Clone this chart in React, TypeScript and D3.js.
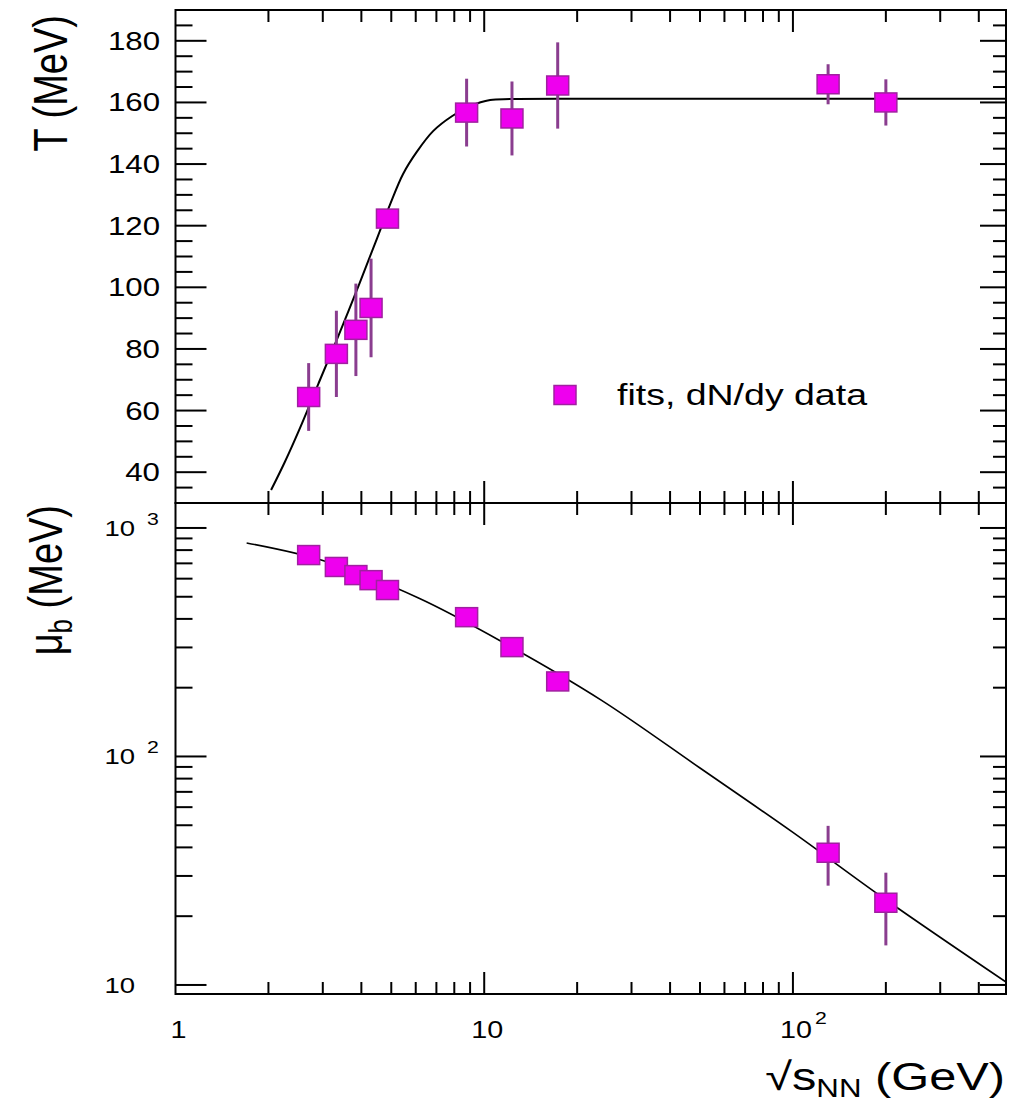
import React from "react";
import * as d3 from "d3";

// ---- data ----
const energies = [2.7, 3.32, 3.84, 4.3, 4.86, 8.77, 12.3, 17.3, 130, 200];
const tempValues = [64.4, 78.4, 86.2, 93.3, 122.3, 156.7, 154.8, 165.5, 165.9, 160.0];
const tempErrors = [11, 14, 15, 16, 2, 11, 12, 14, 6.5, 7.5];
const muValues = [761, 675, 622, 591, 535, 407, 301, 213, 37.9, 22.9];
const muLow = [725, 645, 595, 565, 512, 390, 285, 202, 27.2, 14.9];
const muHigh = [800, 705, 650, 618, 560, 425, 318, 225, 49.7, 31.0];

const tempFitX = [2.04, 2.26, 2.53, 2.9, 3.36, 3.96, 4.5, 4.96, 5.46, 6.07, 6.83, 7.88, 9.01, 10.45, 12.14, 20, 50, 120, 250, 490];
const tempFitY = [34.2, 43.3, 54.3, 68.6, 83.9, 101.7, 116.0, 127.0, 136.8, 144.2, 150.7, 155.6, 158.8, 160.8, 161.1, 161.2, 161.2, 161.2, 161.2, 161.2];
const muFitX = [1.7, 3, 6.1, 12, 24, 50, 100, 200, 490];
const muFitY = [860, 720, 495, 306, 176, 89, 46.5, 23.6, 10.3];

const tempTicksMajor = [40, 60, 80, 100, 120, 140, 160, 180];
const legendLabel = "fits, dN/dy data";

// ---- layout ----
const L = 175.5, R = 1006, TOP = 10, MID = 503, BOT = 994;
const FONT = "'Liberation Sans', Arial, Helvetica, sans-serif";
const SX = 1.25;

const x = d3.scaleLog().domain([1, 490]).range([L, R]);
const yT = d3.scaleLinear().domain([30, 190]).range([MID, TOP]);
const yM = d3.scaleLog().domain([9.13, 1286]).range([BOT, MID]);

const xMajor = [1, 10, 100];
const xMinor: number[] = [];
[1, 10, 100].forEach((dec) => {
  for (let k = 2; k <= 9; k++) {
    const v = dec * k;
    if (v <= 490) xMinor.push(v);
  }
});
const tMinor = d3.range(30, 191, 5).filter((v) => v % 20 !== 0);
const muMajor = [10, 100, 1000];
const muMinor: number[] = [];
[10, 100].forEach((dec) => {
  for (let k = 2; k <= 9; k++) muMinor.push(dec * k);
});

const BAR_COLOR = "#8a3d8f";
const FILL = "#ee00ee";
const EDGE = "#a020a0";

function T({ x: tx, y: ty, anchor = "start", size = 24, children, rotate = false }: any) {
  const tr = rotate
    ? `translate(${tx},${ty}) scale(${SX},1) rotate(-90)`
    : `translate(${tx},${ty}) scale(${SX},1)`;
  return (
    <text transform={tr} textAnchor={anchor} fontSize={size} fontFamily={FONT} fill="#000">
      {children}
    </text>
  );
}

function Marker({ cx, cy }: { cx: number; cy: number }) {
  return <rect x={cx - 11} y={cy - 9.5} width={22} height={19} fill={FILL} stroke={EDGE} strokeWidth={1.5} />;
}

export default function App() {
  const tLine = d3
    .line<number>()
    .x((_, i) => x(tempFitX[i]))
    .y((d) => yT(d))
    .curve(d3.curveCatmullRom.alpha(0.5))(tempFitY);
  const mLine = d3
    .line<number>()
    .x((_, i) => x(muFitX[i]))
    .y((d) => yM(d))
    .curve(d3.curveCatmullRom.alpha(0.5))(muFitY);

  const tick = (key: string, x1: number, y1: number, x2: number, y2: number) => (
    <line key={key} x1={x1} y1={y1} x2={x2} y2={y2} stroke="#000" strokeWidth={2} />
  );

  const ticks: any[] = [];
  const hAxes = [
    { y: TOP, dir: 1 },
    { y: MID, dir: -1 },
    { y: MID, dir: 1 },
    { y: BOT, dir: -1 },
  ];
  hAxes.forEach((a, ai) => {
    xMajor.forEach((v) => {
      if (v > 1) ticks.push(tick(`xM${ai}-${v}`, x(v), a.y, x(v), a.y + a.dir * 22));
    });
    xMinor.forEach((v) => ticks.push(tick(`xm${ai}-${v}`, x(v), a.y, x(v), a.y + a.dir * 12)));
  });
  tempTicksMajor.forEach((v) => {
    ticks.push(tick(`tL${v}`, L, yT(v), L + 31, yT(v)));
    ticks.push(tick(`tR${v}`, R, yT(v), R - 26, yT(v)));
  });
  tMinor.forEach((v) => {
    ticks.push(tick(`tl${v}`, L, yT(v), L + 17, yT(v)));
    ticks.push(tick(`tr${v}`, R, yT(v), R - 13, yT(v)));
  });
  muMajor.forEach((v) => {
    ticks.push(tick(`mL${v}`, L, yM(v), L + 31, yM(v)));
    ticks.push(tick(`mR${v}`, R, yM(v), R - 26, yM(v)));
  });
  muMinor.forEach((v) => {
    ticks.push(tick(`ml${v}`, L, yM(v), L + 17, yM(v)));
    ticks.push(tick(`mr${v}`, R, yM(v), R - 13, yM(v)));
  });

  return (
    <svg
      width={1020}
      height={1104}
      style={{ position: "absolute", left: 0, top: 0, background: "#fff" }}
    >
      <rect x={0} y={0} width={1020} height={1104} fill="#fff" />

      <defs>
        <clipPath id="clipT">
          <rect x={L} y={TOP} width={R - L} height={MID - TOP} />
        </clipPath>
        <clipPath id="clipM">
          <rect x={L} y={MID} width={R - L} height={BOT - MID} />
        </clipPath>
      </defs>

      {/* fit curves */}
      <path d={tLine || ""} fill="none" stroke="#000" strokeWidth={2} clipPath="url(#clipT)" />
      <path d={mLine || ""} fill="none" stroke="#000" strokeWidth={1.6} clipPath="url(#clipM)" />

      {/* error bars */}
      {energies.map((e, i) => (
        <line
          key={`te${i}`}
          x1={x(e)}
          x2={x(e)}
          y1={yT(tempValues[i] + tempErrors[i])}
          y2={yT(tempValues[i] - tempErrors[i])}
          stroke={BAR_COLOR}
          strokeWidth={3}
        />
      ))}
      {energies.map((e, i) => (
        <line
          key={`me${i}`}
          x1={x(e)}
          x2={x(e)}
          y1={yM(muHigh[i])}
          y2={yM(muLow[i])}
          stroke={BAR_COLOR}
          strokeWidth={3}
        />
      ))}
      {energies.map((e, i) => (
        <Marker key={`tm${i}`} cx={x(e)} cy={yT(tempValues[i])} />
      ))}
      {energies.map((e, i) => (
        <Marker key={`mm${i}`} cx={x(e)} cy={yM(muValues[i])} />
      ))}

      {/* frames */}
      <rect x={L} y={TOP} width={R - L} height={MID - TOP} fill="none" stroke="#000" strokeWidth={2} />
      <rect x={L} y={MID} width={R - L} height={BOT - MID} fill="none" stroke="#000" strokeWidth={2} />
      {ticks}

      {/* T tick labels */}
      {tempTicksMajor.map((v) => (
        <T key={`tl${v}`} x={160} y={yT(v) + 9} anchor="end" size={25}>
          {v}
        </T>
      ))}
      {/* mu tick labels */}
      {muMajor.map((v) => {
        const p = Math.round(Math.log10(v));
        return (
          <g key={`ml${v}`}>
            <T x={135} y={yM(v) + 8} anchor="end" size={22}>
              10
            </T>
            {p > 1 && (
              <T x={147} y={yM(v) - 3} anchor="start" size={17}>
                {p}
              </T>
            )}
          </g>
        );
      })}
      {/* x tick labels */}
      {xMajor.map((v) => {
        const p = Math.round(Math.log10(v));
        return (
          <g key={`xl${v}`}>
            <T x={x(v) + 3} y={1038} anchor="middle" size={23}>
              {p === 0 ? "1" : "10"}
            </T>
            {p > 1 && (
              <T x={x(v) + 22} y={1024} anchor="start" size={17}>
                {p}
              </T>
            )}
          </g>
        );
      })}

      {/* axis titles */}
      <T x={1005} y={1090} anchor="end" size={39}>
        <tspan>√s</tspan>
        <tspan fontSize={25} dy={7}>
          NN
        </tspan>
        <tspan dy={-7}> (GeV)</tspan>
      </T>
      <T x={67} y={15} anchor="end" size={38} rotate>
        T (MeV)
      </T>
      <T x={62} y={505} anchor="end" size={38} rotate>
        <tspan>μ</tspan>
        <tspan fontSize={26} dy={8}>
          b
        </tspan>
        <tspan dy={-8}> (MeV)</tspan>
      </T>

      {/* legend */}
      <Marker cx={565} cy={395} />
      <T x={617} y={405} anchor="start" size={30}>
        {legendLabel}
      </T>
    </svg>
  );
}
